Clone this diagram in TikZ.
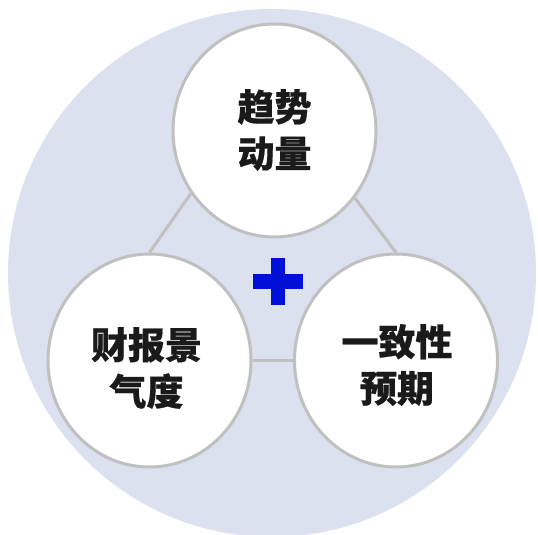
\documentclass[tikz,border=0pt]{standalone}
\usepackage{fontspec}
\newfontfamily\cjk{Noto Sans CJK SC}[BoldFeatures={FakeBold=0.5}]
\usetikzlibrary{shapes.geometric}
\pgfdeclarelayer{bg}
\pgfdeclarelayer{links}
\pgfsetlayers{bg,links,main}
\definecolor{bgblue}{RGB}{220,225,240}
\definecolor{ringgray}{RGB}{192,192,192}
\definecolor{plusblue}{RGB}{0,16,214}
\definecolor{txt}{RGB}{26,26,26}
\tikzset{
  bubble/.style={ellipse, draw=ringgray, line width=3pt, fill=white, minimum width=203pt, minimum height=213pt, inner sep=0pt},
  label/.style={font=\cjk\bfseries\fontsize{37}{46.5}\selectfont, text=txt, align=center, inner sep=0pt},
  link/.style={draw=ringgray, line width=3pt}
}
\begin{document}
\begin{tikzpicture}[x=1pt,y=-1pt]
\useasboundingbox (0,0) rectangle (538,535);
\begin{pgfonlayer}{bg}
\fill[bgblue] (272,273) circle (264);
\end{pgfonlayer}
\node[bubble] (top) at (274.5,130.5) {};
\node[bubble] (left) at (149.5,360.5) {};
\node[bubble] (right) at (396,360.5) {};
\node[label] (ttop) at (274.5,130) {趋势\\动量};
\node[label] (tleft) at (146.5,368) {财报景\\气度};
\node[label] (tright) at (397,365) {一致性\\预期};
\begin{pgfonlayer}{links}
\draw[link] (top.217) -- (left.north);
\draw[link] (top.320) -- (right.north);
\draw[link] (left.east) -- (right.west);
\end{pgfonlayer}
\fill[plusblue] (252.7,274) rectangle (302.7,289);
\fill[plusblue] (270.7,258) rectangle (284.7,305);
\end{tikzpicture}
\end{document}
